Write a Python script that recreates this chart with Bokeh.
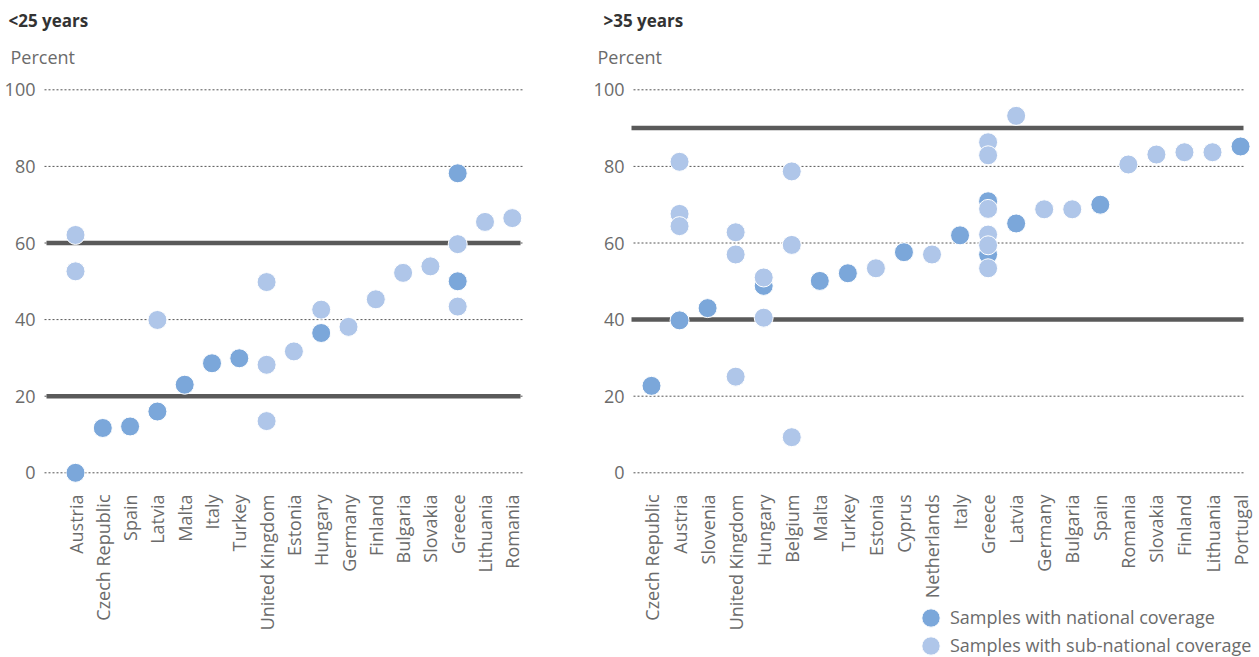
import math
from bokeh.plotting import figure
from bokeh.models import Label, Legend, LegendItem, FixedTicker, ColumnDataSource
from bokeh.layouts import row
from bokeh.embed import file_html
from bokeh.resources import INLINE

# ---------------- data: <25 years ----------------
young_countries = ["Austria", "Czech Republic", "Spain", "Latvia", "Malta", "Italy", "Turkey",
                   "United Kingdom", "Estonia", "Hungary", "Germany", "Finland", "Bulgaria",
                   "Slovakia", "Greece", "Lithuania", "Romania"]
young_nat_country = ["Austria", "Czech Republic", "Spain", "Latvia", "Malta", "Italy", "Turkey",
                     "Hungary", "Greece", "Greece"]
young_nat_value = [0, 11.7, 12.1, 16.0, 23.0, 28.6, 29.9, 36.5, 78.2, 50.0]
young_sub_country = ["Austria", "Austria", "Latvia", "United Kingdom", "United Kingdom",
                     "United Kingdom", "Estonia", "Hungary", "Germany", "Finland", "Bulgaria",
                     "Slovakia", "Greece", "Greece", "Lithuania", "Romania"]
young_sub_value = [62.1, 52.6, 39.9, 49.8, 28.2, 13.5, 31.7, 42.6, 38.1, 45.3, 52.2, 53.9,
                   59.7, 43.4, 65.5, 66.5]
young_thresholds = [20, 60]

# ---------------- data: >35 years ----------------
old_countries = ["Czech Republic", "Austria", "Slovenia", "United Kingdom", "Hungary", "Belgium",
                 "Malta", "Turkey", "Estonia", "Cyprus", "Netherlands", "Italy", "Greece",
                 "Latvia", "Germany", "Bulgaria", "Spain", "Romania", "Slovakia", "Finland",
                 "Lithuania", "Portugal"]
old_nat_country = ["Czech Republic", "Austria", "Slovenia", "Hungary", "Malta", "Turkey", "Cyprus",
                   "Italy", "Greece", "Greece", "Latvia", "Spain", "Portugal"]
old_nat_value = [22.7, 39.8, 43.0, 48.8, 50.1, 52.1, 57.6, 62.0, 70.9, 57.0, 65.1, 70.0, 85.2]
old_sub_country = ["Austria", "Austria", "Austria", "United Kingdom", "United Kingdom",
                   "United Kingdom", "Hungary", "Hungary", "Belgium", "Belgium", "Belgium",
                   "Estonia", "Netherlands", "Greece", "Greece", "Greece", "Greece", "Greece",
                   "Greece", "Latvia", "Germany", "Bulgaria", "Romania", "Slovakia", "Finland",
                   "Lithuania"]
old_sub_value = [81.2, 67.6, 64.4, 62.8, 57.0, 25.1, 51.0, 40.5, 78.7, 59.5, 9.3, 53.4, 57.0,
                 86.3, 82.9, 68.9, 62.2, 59.4, 53.4, 93.2, 68.8, 68.8, 80.5, 83.1, 83.7, 83.7]
old_thresholds = [40, 90]

y_ticks = [0, 20, 40, 60, 80, 100]
series_labels = ["Samples with national coverage", "Samples with sub-national coverage"]
panel_titles = ["<25 years", ">35 years"]
y_title = "Percent"

NAT_COLOR = "#7ba7da"
SUB_COLOR = "#afc6e9"
TEXT = "#6b6b6b"
TITLE_COLOR = "#333333"
FONT = "Open Sans"

# ---------------- layout geometry (page pixels) ----------------
H = 657
PAGE_TOP = 0
Y0_PX = 472.3          # page y of value 0
PX_PER_UNIT = 3.83     # pixels per percentage point


def ydata(py):
    return (Y0_PX - py) / PX_PER_UNIT


def make_panel(title, countries, nat_c, nat_v, sub_c, sub_v, thresholds,
               fig_left, width, cat0, step, grid_l, grid_r, thick_l, thick_r,
               title_x, pct_x, legend_x=None):
    def xdata(px):
        return (px - cat0) / step

    idx = {c: i for i, c in enumerate(countries)}
    p = figure(width=width, height=H,
               x_range=(xdata(fig_left), xdata(fig_left + width)),
               y_range=(ydata(PAGE_TOP + H), ydata(PAGE_TOP)),
               output_backend="svg", toolbar_location=None,
               min_border=0)
    p.outline_line_color = None
    p.background_fill_color = "white"
    p.xgrid.grid_line_color = None
    p.ygrid.grid_line_color = None

    # axes fixed inside the frame
    p.yaxis.fixed_location = xdata(grid_l)
    p.xaxis.fixed_location = ydata(484)
    p.yaxis.ticker = FixedTicker(ticks=y_ticks)
    p.xaxis.ticker = FixedTicker(ticks=list(range(len(countries))))
    p.xaxis.major_label_overrides = {i: c for i, c in enumerate(countries)}
    p.xaxis.major_label_orientation = math.pi / 2
    for ax in (p.xaxis, p.yaxis):
        ax.axis_line_color = None
        ax.major_tick_line_color = None
        ax.minor_tick_line_color = None
        ax.major_label_text_font = FONT
        ax.major_label_text_font_size = "18px"
        ax.major_label_text_color = TEXT
    p.xaxis.major_label_standoff = 4
    p.yaxis.major_label_standoff = 3

    # dotted gridlines
    p.segment(x0=[xdata(grid_l)] * len(y_ticks), x1=[xdata(grid_r)] * len(y_ticks),
              y0=y_ticks, y1=y_ticks, line_color="#555555", line_dash="2 2",
              line_width=1)
    # thick reference lines
    p.segment(x0=[xdata(thick_l)] * len(thresholds), x1=[xdata(thick_r)] * len(thresholds),
              y0=thresholds, y1=thresholds, line_color="#5a5a5a", line_width=4.5)

    src_n = ColumnDataSource(dict(x=[idx[c] for c in nat_c], y=nat_v))
    src_s = ColumnDataSource(dict(x=[idx[c] for c in sub_c], y=sub_v))
    rn = p.ellipse(x="x", y="y", width=19, height=19, width_units="screen",
                   height_units="screen", fill_color=NAT_COLOR, line_color="white",
                   line_width=1, source=src_n)
    rs = p.ellipse(x="x", y="y", width=19, height=19, width_units="screen",
                   height_units="screen", fill_color=SUB_COLOR, line_color="white",
                   line_width=1, source=src_s)

    p.add_layout(Label(x=xdata(title_x), y=ydata(20), text=title,
                       text_font=FONT, text_font_size="17px", text_font_style="bold",
                       text_color=TITLE_COLOR, text_baseline="alphabetic"))
    p.add_layout(Label(x=xdata(pct_x), y=ydata(56), text=y_title,
                       text_font=FONT, text_font_size="18px", text_color=TEXT,
                       text_baseline="alphabetic"))

    if legend_x is not None:
        lg = Legend(items=[LegendItem(label=series_labels[0], renderers=[rn]),
                           LegendItem(label=series_labels[1], renderers=[rs])],
                    location=(legend_x - fig_left, 0), glyph_width=23, glyph_height=23,
                    label_standoff=8, spacing=4, padding=0, margin=0,
                    border_line_color=None, background_fill_alpha=0,
                    label_text_font=FONT, label_text_font_size="18px",
                    label_text_color=TEXT)
        p.add_layout(lg)
    return p


p1 = make_panel(panel_titles[0], young_countries, young_nat_country, young_nat_value,
                young_sub_country, young_sub_value, young_thresholds,
                fig_left=0, width=588, cat0=75, step=27.3, grid_l=44, grid_r=522,
                thick_l=46, thick_r=520, title_x=8, pct_x=10)
p2 = make_panel(panel_titles[1], old_countries, old_nat_country, old_nat_value,
                old_sub_country, old_sub_value, old_thresholds,
                fig_left=588, width=671, cat0=651, step=28.05, grid_l=633, grid_r=1245,
                thick_l=631, thick_r=1243, title_x=603, pct_x=597, legend_x=919)

layout = row(p1, p2)
open("out.html", "w").write(file_html(layout, INLINE))
